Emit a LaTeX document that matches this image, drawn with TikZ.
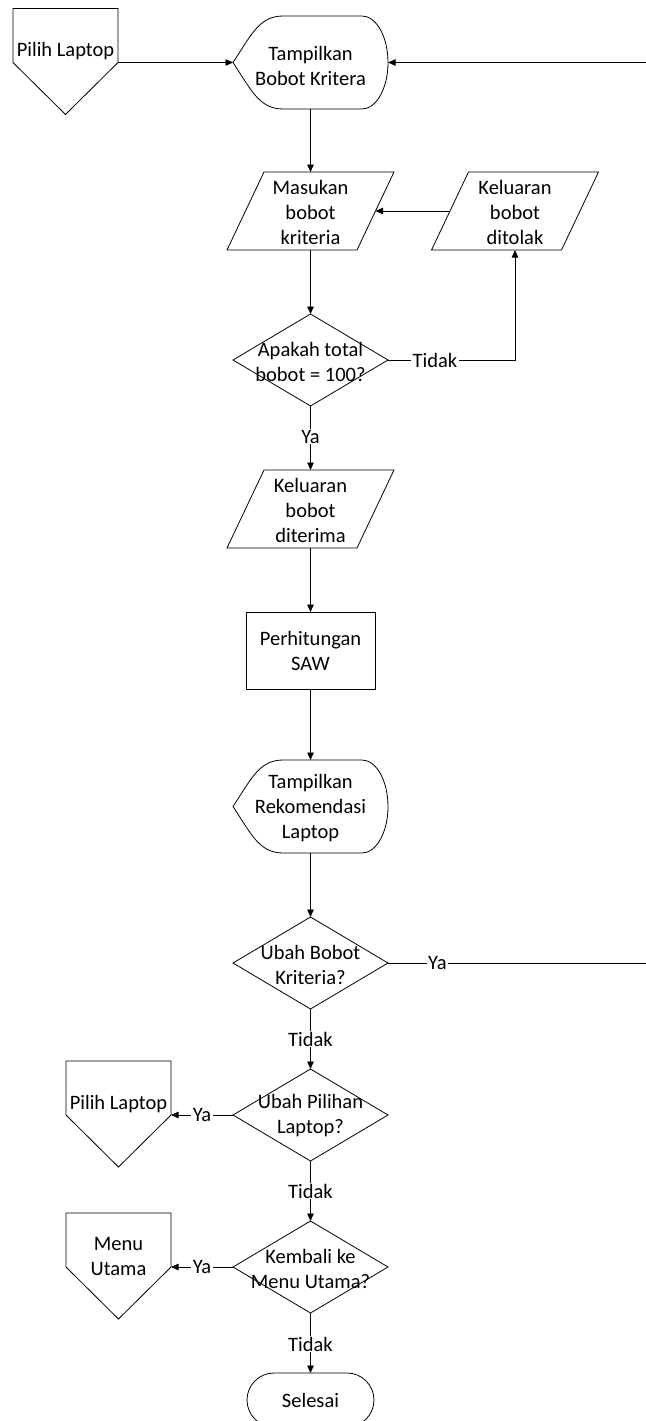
\documentclass[tikz,border=0pt]{standalone}
\usepackage{fontspec}
\setmainfont{Carlito}
\usetikzlibrary{arrows.meta,shapes.geometric,calc}
\begin{document}
\begin{tikzpicture}[x=1pt,y=-1pt,line width=0.8pt,
  txt/.style={font=\fontsize{20.5}{25}\selectfont,align=center,inner sep=0pt},
  lbl/.style={txt,fill=white,inner xsep=1.5pt,inner ysep=1pt},
  ghost/.style={draw=none,inner sep=0pt,outer sep=0pt},
  dec/.style={diamond,draw,inner sep=0pt,outer sep=0pt,minimum width=155pt,minimum height=92pt},
  arr/.style={-{Triangle[length=7.5pt,width=6.5pt]}}]
\useasboundingbox (0,0) rectangle (645,1421);

% off-page: Pilih Laptop (top)
\node[ghost,minimum width=105pt,minimum height=54pt] (pl1) at (65.5,35.5) {};
\draw (pl1.north west) -- (pl1.north east) -- (pl1.south east) -- ($(pl1.south)+(0,52)$) -- (pl1.south west) -- cycle;
\node[txt] (pl1t) at ($(pl1.north)+(0,43)$) {Pilih Laptop};

% display 1
\node[ghost,minimum width=155pt,minimum height=93pt] (disp1) at (310.5,62.5) {};
\draw (disp1.west) .. controls +(18,-27) and +(-24,0) .. ($(disp1.north west)+(50,0)$) -- ($(disp1.north east)+(-26,0)$) arc[start angle=-90,end angle=90,x radius=26,y radius=46.5] -- ($(disp1.south west)+(50,0)$) .. controls +(-24,0) and +(18,27) .. (disp1.west) -- cycle;
\node[txt] (disp1t) at (310.5,65.5) {Tampilkan\\Bobot Kritera};

% Masukan bobot kriteria
\node[ghost,minimum width=167pt,minimum height=78pt] (m) at (310.5,211) {};
\draw ($(m.north west)+(37,0)$) -- (m.north east) -- ($(m.south east)+(-37,0)$) -- (m.south west) -- cycle;
\node[txt] (mt) at (310.5,212) {Masukan\\bobot\\kriteria};

% Keluaran bobot ditolak
\node[ghost,minimum width=167pt,minimum height=78pt] (kd) at (515,211) {};
\draw ($(kd.north west)+(37,0)$) -- (kd.north east) -- ($(kd.south east)+(-37,0)$) -- (kd.south west) -- cycle;
\node[txt] (kdtx) at (515,212) {Keluaran\\bobot\\ditolak};
\coordinate (mr) at ($(m.east)+(-18.5,0)$);
\coordinate (kdl) at ($(kd.west)+(18.5,0)$);

% decision 1
\node[dec] (d1) at (310.5,360) {};
\node[txt] (d1t) at (310.5,361.5) {Apakah total\\bobot = 100?};

% Keluaran bobot diterima
\node[ghost,minimum width=167pt,minimum height=78pt] (kdt) at (310.5,509) {};
\draw ($(kdt.north west)+(37,0)$) -- (kdt.north east) -- ($(kdt.south east)+(-37,0)$) -- (kdt.south west) -- cycle;
\node[txt] (kdttx) at (310.5,510) {Keluaran\\bobot\\diterima};

% Perhitungan SAW
\node[draw,txt,minimum width=129pt,minimum height=77pt,outer sep=0pt] (saw) at (310.5,650.5) {Perhitungan\\SAW};

% display 2
\node[ghost,minimum width=155pt,minimum height=93pt] (disp2) at (310.5,806.5) {};
\draw (disp2.west) .. controls +(18,-27) and +(-24,0) .. ($(disp2.north west)+(50,0)$) -- ($(disp2.north east)+(-26,0)$) arc[start angle=-90,end angle=90,x radius=26,y radius=46.5] -- ($(disp2.south west)+(50,0)$) .. controls +(-24,0) and +(18,27) .. (disp2.west) -- cycle;
\node[txt] (disp2t) at (310.5,808) {Tampilkan\\Rekomendasi\\Laptop};

% decision 2
\node[dec] (d2) at (310.5,963) {};
\node[txt] (d2t) at (310.5,964.5) {Ubah Bobot\\Kriteria?};

% decision 3
\node[dec] (d3) at (310.5,1115) {};
\node[txt] (d3t) at (310.5,1115.5) {Ubah Pilihan\\Laptop?};

% off-page: Pilih Laptop (bottom)
\node[ghost,minimum width=105pt,minimum height=54pt] (pl2) at (118.5,1088) {};
\draw (pl2.north west) -- (pl2.north east) -- (pl2.south east) -- ($(pl2.south)+(0,52)$) -- (pl2.south west) -- cycle;
\node[txt] (pl2t) at ($(pl2.north)+(0,43)$) {Pilih Laptop};

% decision 4
\node[dec] (d4) at (310.5,1267) {};
\node[txt] (d4t) at (310.5,1269) {Kembali ke\\Menu Utama?};

% off-page: Menu Utama
\node[ghost,minimum width=105pt,minimum height=54pt] (mu) at (118.5,1240) {};
\draw (mu.north west) -- (mu.north east) -- (mu.south east) -- ($(mu.south)+(0,52)$) -- (mu.south west) -- cycle;
\node[txt] (mut) at ($(mu.north)+(0,43)$) {Menu\\Utama};

% terminator
\node[draw,txt,rounded corners=27pt,minimum width=127pt,minimum height=54pt,outer sep=0pt] (sel) at (310.5,1400) {Selesai};

% connectors
\coordinate (rb) at (648,963);
\coordinate (rt) at (648,62.5);
\draw[arr] (pl1.south east) -- (disp1.west);
\draw[arr] (disp1.south) -- (m.north);
\draw[arr] (kdl) -- (mr);
\draw[arr] (m.south) -- (d1.north);
\draw[arr] (d1.east) -- node[lbl,pos=0.37]{Tidak} (d1.east -| kd.south) -- (kd.south);
\draw[arr] (d1.south) -- node[lbl,pos=0.48]{Ya} (kdt.north);
\draw[arr] (kdt.south) -- (saw.north);
\draw[arr] (saw.south) -- (disp2.north);
\draw[arr] (disp2.south) -- (d2.north);
\draw[arr] (d2.east) -- node[lbl,pos=0.19]{Ya} (rb) -- (rt) -- (disp1.east);
\draw[arr] (d2.south) -- node[lbl,pos=0.5]{Tidak} (d3.north);
\draw[arr] (d3.west) -- node[lbl,pos=0.5]{Ya} (pl2.south east);
\draw[arr] (d3.south) -- node[lbl,pos=0.5]{Tidak} (d4.north);
\draw[arr] (d4.west) -- node[lbl,pos=0.5]{Ya} (mu.south east);
\draw[arr] (d4.south) -- node[lbl,pos=0.52]{Tidak} (sel.north);
\end{tikzpicture}
\end{document}
